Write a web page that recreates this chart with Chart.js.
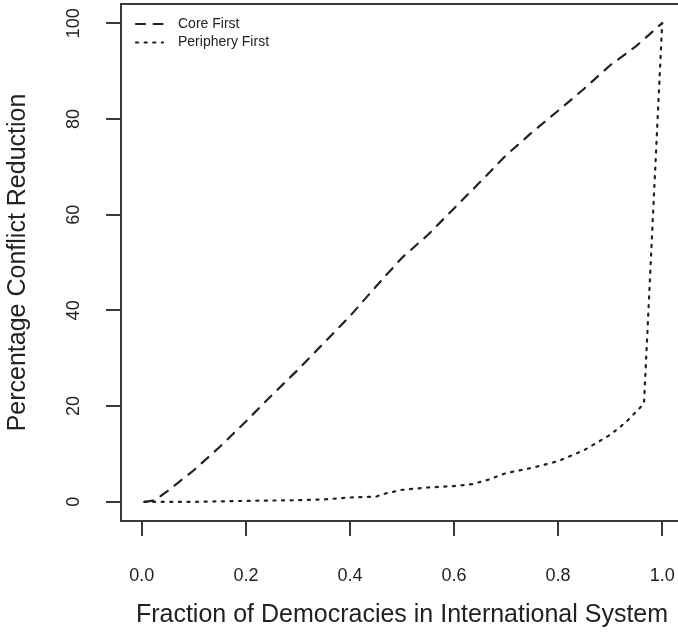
<!DOCTYPE html>
<html>
<head>
<meta charset="utf-8">
<script src="https://cdn.jsdelivr.net/npm/chart.js@4.4.1/dist/chart.umd.min.js"></script>
<style>
  html, body { margin: 0; padding: 0; background: #fff; overflow: hidden; width: 678px; height: 643px; }
  #wrap { position: absolute; left: 0; top: 0; width: 690px; height: 643px; }
</style>
</head>
<body>
<div id="wrap"><canvas id="chart" width="690" height="643"></canvas></div>
<script>
// Fraction of democracies (x) vs. percentage conflict reduction (y)
const seriesNames = ['Core First', 'Periphery First'];

const fractionCore = [0.005, 0.025, 0.05, 0.10, 0.15, 0.20, 0.25, 0.30, 0.35, 0.40, 0.45,
                      0.50, 0.55, 0.60, 0.65, 0.70, 0.75, 0.80, 0.85, 0.90, 0.95, 1.00];
const reductionCore = [0, 0.3, 2.3, 6.6, 11.5, 16.8, 22.3, 27.6, 33.2, 38.8, 45.0,
                       51.0, 55.8, 61.3, 66.8, 72.4, 77.2, 81.7, 86.3, 91.2, 95.2, 100];

const fractionPeriphery = [0.005, 0.10, 0.20, 0.30, 0.35, 0.40, 0.45, 0.47, 0.50, 0.55, 0.60,
                           0.635, 0.665, 0.70, 0.75, 0.80, 0.85, 0.90, 0.93, 0.965, 1.00];
const reductionPeriphery = [0, 0, 0.2, 0.35, 0.5, 0.9, 1.1, 1.8, 2.5, 3.0, 3.3,
                            3.7, 4.6, 6.0, 7.1, 8.5, 10.8, 14.0, 16.6, 20.5, 100];

const xTickValues = [0, 0.2, 0.4, 0.6, 0.8, 1.0];
const yTickValues = [0, 20, 40, 60, 80, 100];

const xTitle = 'Fraction of Democracies in International System';
const yTitle = 'Percentage Conflict Reduction';

const FONT = "'Liberation Sans', Arial, sans-serif";
const INK = '#222';
const FRAME = '#3a3a3a';

Chart.defaults.font.family = FONT;
Chart.defaults.color = INK;

function toPoints(xs, ys) {
  return xs.map((x, i) => ({ x: x, y: ys[i] }));
}

// Box around the plot region, rotated y tick labels and the inset legend
const framePlugin = {
  id: 'frameAndLegend',
  afterDraw(chart) {
    const { ctx, chartArea: a, scales } = chart;
    ctx.save();
    ctx.strokeStyle = FRAME;
    ctx.lineWidth = 2;
    ctx.strokeRect(a.left, a.top, a.right - a.left, a.bottom - a.top);

    // y tick labels, reading bottom to top
    ctx.fillStyle = INK;
    ctx.font = '18px ' + FONT;
    ctx.textAlign = 'center';
    ctx.textBaseline = 'middle';
    scales.y.ticks.forEach(t => {
      const py = scales.y.getPixelForValue(t.value);
      ctx.save();
      ctx.translate(74, py);
      ctx.rotate(-Math.PI / 2);
      ctx.fillText(String(t.value), 0, 0);
      ctx.restore();
    });

    // legend
    const x0 = a.left + 15, x1 = a.left + 42, tx = a.left + 57;
    const rows = [24, 42.5];
    ctx.font = '14px ' + FONT;
    ctx.textAlign = 'left';
    chart.data.datasets.forEach((ds, i) => {
      const y = rows[i];
      ctx.beginPath();
      ctx.setLineDash(ds.borderDash);
      ctx.lineCap = 'round';
      ctx.lineWidth = ds.borderWidth;
      ctx.strokeStyle = ds.borderColor;
      ctx.moveTo(x0, y);
      ctx.lineTo(x1, y);
      ctx.stroke();
      ctx.setLineDash([]);
      ctx.fillStyle = INK;
      ctx.fillText(ds.label, tx, y);
    });
    ctx.restore();
  }
};

new Chart(document.getElementById('chart'), {
  type: 'line',
  data: {
    datasets: [
      {
        label: seriesNames[0],
        data: toPoints(fractionCore, reductionCore),
        borderColor: INK,
        borderWidth: 2.2,
        borderDash: [9, 8.6],
        borderCapStyle: 'round',
        pointRadius: 0,
        tension: 0,
        fill: false
      },
      {
        label: seriesNames[1],
        data: toPoints(fractionPeriphery, reductionPeriphery),
        borderColor: INK,
        borderWidth: 2.2,
        borderDash: [2.2, 6.4],
        borderCapStyle: 'round',
        pointRadius: 0,
        tension: 0,
        fill: false
      }
    ]
  },
  options: {
    responsive: false,
    animation: false,
    devicePixelRatio: 1,
    layout: { padding: { top: 4, right: 7, left: 0, bottom: 0 } },
    plugins: {
      legend: { display: false },
      tooltip: { enabled: false }
    },
    scales: {
      x: {
        type: 'linear',
        position: 'bottom',
        min: -0.04,
        max: 1.04,
        afterBuildTicks: s => { s.ticks = xTickValues.map(v => ({ value: v })); },
        afterFit: s => { s.height = 122; s.paddingLeft = 0; s.paddingRight = 0; },
        border: { display: false },
        grid: { display: true, drawOnChartArea: false, drawTicks: true, tickLength: 15, color: FRAME, lineWidth: 2 },
        ticks: {
          autoSkip: false, maxRotation: 0, minRotation: 0,
          padding: 29,
          font: { size: 18 },
          color: INK,
          callback: v => Number(v).toFixed(1)
        },
        title: { display: true, text: xTitle, font: { size: 25 }, color: INK, padding: { top: 0, bottom: 13 } }
      },
      y: {
        type: 'linear',
        position: 'left',
        min: -4,
        max: 104,
        afterBuildTicks: s => { s.ticks = yTickValues.map(v => ({ value: v })); },
        afterFit: s => { s.width = 121; s.paddingTop = 0; s.paddingBottom = 0; },
        border: { display: false },
        grid: { display: true, drawOnChartArea: false, drawTicks: true, tickLength: 15, color: FRAME, lineWidth: 2 },
        ticks: { display: false },
        title: { display: true, text: yTitle, font: { size: 25 }, color: INK, padding: { top: 3, bottom: 0 } }
      }
    }
  },
  plugins: [framePlugin]
});
</script>
</body>
</html>
